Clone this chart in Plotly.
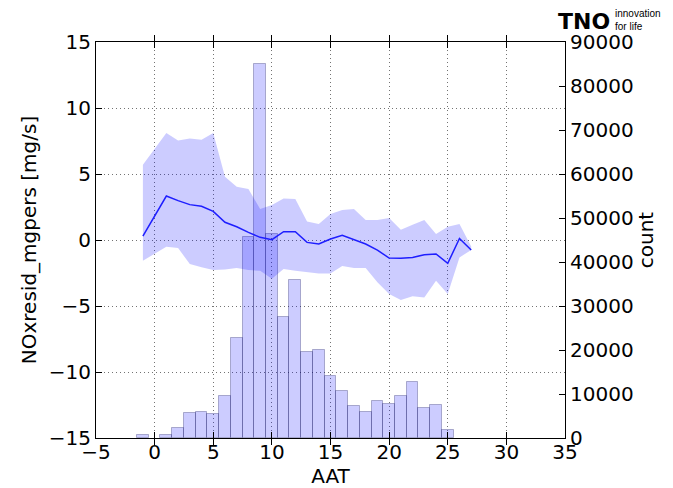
import plotly.graph_objects as go

# ---- data ----
hist_x = [-1, 1, 2, 3, 4, 5, 6, 7, 8, 9, 10, 11, 12, 13, 14, 15, 16, 17, 18, 19, 20, 21, 22, 23, 24, 25]
hist_count = [600, 600, 2300, 5700, 5900, 5450, 9600, 22700, 45600, 85100, 46400, 27600, 36000,
              19500, 19900, 14200, 10700, 7200, 5850, 8400, 7650, 9650, 12800, 6850, 7450, 1900]

line_x = [-1, 1, 2, 3, 4, 5, 6, 7, 8, 9, 10, 11, 12, 13, 14, 15, 16, 17, 18, 19, 20, 21, 22, 23, 24, 25, 26, 27]
mean_y = [0.3, 3.33, 2.98, 2.68, 2.55, 2.17, 1.34, 1.0, 0.58, 0.2, 0.02, 0.63, 0.63, -0.18, -0.3,
          0.07, 0.35, 0.0, -0.3, -0.76, -1.37, -1.39, -1.32, -1.11, -1.06, -1.77, 0.12, -0.76]
upper_y = [5.7, 8.11, 7.53, 7.68, 7.6, 8.11, 4.8, 4.04, 3.87, 2.35, 2.65, 3.15, 3.1, 1.41, 1.21,
           1.97, 2.27, 2.35, 1.52, 1.52, 1.67, 0.78, 1.16, 1.52, 0.45, 1.0, 1.21, -0.5]
lower_y = [-1.57, -0.51, -0.61, -1.82, -2.07, -2.28, -2.23, -2.13, -2.28, -2.33, -2.93, -2.2, -2.33,
           -2.43, -2.53, -2.53, -1.97, -2.13, -2.13, -3.21, -4.1, -4.55, -4.27, -4.35, -3.09, -4.1,
           -1.32, -0.76]

x_ticks = [-5, 0, 5, 10, 15, 20, 25, 30, 35]
x_labels = ["\u22125", "0", "5", "10", "15", "20", "25", "30", "35"]
y_ticks = [-15, -10, -5, 0, 5, 10, 15]
y_labels = ["\u221215", "\u221210", "\u22125", "0", "5", "10", "15"]
count_ticks = [0, 10000, 20000, 30000, 40000, 50000, 60000, 70000, 80000, 90000]
count_labels = ["0", "10000", "20000", "30000", "40000", "50000", "60000", "70000", "80000", "90000"]

FONT = "DejaVu Sans"
GRID = "rgba(0,0,0,0.55)"
fig = go.Figure()

fig.add_trace(go.Bar(
    x=hist_x, y=hist_count, width=1, yaxis="y",
    marker=dict(color="rgba(0,0,255,0.2)", line=dict(color="rgba(20,20,90,0.3)", width=1)),
    showlegend=False,
))
fig.add_trace(go.Scatter(
    x=line_x, y=upper_y, yaxis="y2", mode="lines", line=dict(width=0),
    showlegend=False, hoverinfo="skip",
))
fig.add_trace(go.Scatter(
    x=line_x, y=lower_y, yaxis="y2", mode="lines", line=dict(width=0),
    fill="tonexty", fillcolor="rgba(0,0,255,0.2)", showlegend=False, hoverinfo="skip",
))
fig.add_trace(go.Scatter(
    x=line_x, y=mean_y, yaxis="y2", mode="lines",
    line=dict(color="rgb(30,30,255)", width=1.5), showlegend=False,
))

# the page places the figure 8px in from the top-left corner
fig.update_layout(
    width=665, height=480,
    margin=dict(l=88, r=108, t=34, b=50, autoexpand=False),
    paper_bgcolor="white", plot_bgcolor="white",
    font=dict(family=FONT, size=20, color="black"),
    bargap=0,
    xaxis=dict(
        range=[-5, 35], tickvals=x_ticks, ticktext=x_labels, automargin=False,
        showline=True, linecolor="black", linewidth=1, mirror="allticks",
        ticks="inside", ticklen=6, tickcolor="black", ticklabelstandoff=-4,
        showgrid=True, gridcolor=GRID, griddash="1px,3px", gridwidth=1,
        zeroline=False,
        title=dict(text="AAT", standoff=0, font=dict(size=20)),
    ),
    yaxis=dict(
        side="right", range=[0, 90000], tickvals=count_ticks, ticktext=count_labels,
        automargin=False,
        showline=True, linecolor="black", linewidth=1,
        ticks="inside", ticklen=6, tickcolor="black",
        showgrid=False, zeroline=False,
        title=dict(text="count", standoff=2, font=dict(size=20)),
    ),
    yaxis2=dict(
        side="left", overlaying="y", range=[-15, 15], tickvals=y_ticks, ticktext=y_labels,
        automargin=False,
        showline=True, linecolor="black", linewidth=1,
        ticks="inside", ticklen=6, tickcolor="black",
        showgrid=True, gridcolor=GRID, griddash="1px,3px", gridwidth=1,
        zeroline=False,
        title=dict(text="NOxresid_mgpers [mg/s]", standoff=6, font=dict(size=20)),
    ),
)

# TNO logo as text
fig.add_annotation(xref="paper", yref="paper", x=1.101, y=1.053, xanchor="right", yanchor="middle",
                   text="<b>TNO</b>", showarrow=False,
                   font=dict(family="DejaVu Sans", size=22, color="black"))
fig.add_annotation(xref="paper", yref="paper", x=1.103, y=1.056, xanchor="left", yanchor="middle",
                   text="innovation<br>for life", showarrow=False, align="left",
                   font=dict(family="Liberation Sans", size=10, color="black"))

fig.write_html("out.html")
